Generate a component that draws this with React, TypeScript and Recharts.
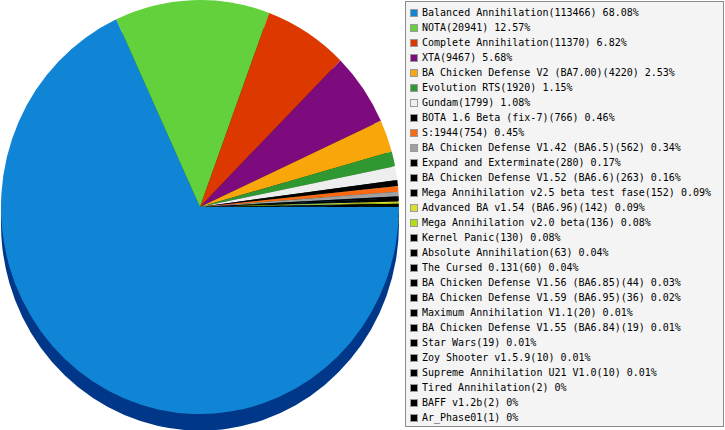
import React from "react";
import { Cell, Pie, PieChart } from "recharts";

// mod usage
const modNames = [
  "Balanced Annihilation",
  "NOTA",
  "Complete Annihilation",
  "XTA",
  "BA Chicken Defense V2 (BA7.00)",
  "Evolution RTS",
  "Gundam",
  "BOTA 1.6 Beta (fix-7)",
  "S:1944",
  "BA Chicken Defense V1.42 (BA6.5)",
  "Expand and Exterminate",
  "BA Chicken Defense V1.52 (BA6.6)",
  "Mega Annihilation v2.5 beta test fase",
  "Advanced BA v1.54 (BA6.96)",
  "Mega Annihilation v2.0 beta",
  "Kernel Panic",
  "Absolute Annihilation",
  "The Cursed 0.131",
  "BA Chicken Defense V1.56 (BA6.85)",
  "BA Chicken Defense V1.59 (BA6.95)",
  "Maximum Annihilation V1.1",
  "BA Chicken Defense V1.55 (BA6.84)",
  "Star Wars",
  "Zoy Shooter v1.5.9",
  "Supreme Annihilation U21 V1.0",
  "Tired Annihilation",
  "BAFF v1.2b",
  "Ar_Phase01",
];

const modGames = [
  113466, 20941, 11370, 9467, 4220, 1920, 1799, 766, 754, 562, 280, 263, 152,
  142, 136, 130, 63, 60, 44, 36, 20, 19, 19, 10, 10, 2, 2, 1,
];

const sliceColors = [
  "#1085d5",
  "#62d13b",
  "#dc3800",
  "#7e0b7e",
  "#f9a60a",
  "#309830",
  "#eeeeee",
  "#000000",
  "#fb6912",
  "#a0a0a0",
  "#000000",
  "#000000",
  "#000000",
  "#dedd2c",
  "#b4e012",
  "#000000",
  "#000000",
  "#000000",
  "#000000",
  "#000000",
  "#000000",
  "#000000",
  "#000000",
  "#000000",
  "#000000",
  "#000000",
  "#000000",
  "#000000",
];

// the rim under the top face
const shade = (hex: string) => {
  const n = parseInt(hex.slice(1), 16);
  const r = Math.round(((n >> 16) & 255) * 0.05);
  const g = Math.round(((n >> 8) & 255) * 0.41);
  const b = Math.round((n & 255) * 0.64);
  return `rgb(${r},${g},${b})`;
};

const total = modGames.reduce((a, b) => a + b, 0);
const data = modNames.map((name, i) => ({ name, value: modGames[i] }));

const pct = (v: number) => `${Math.round((v / total) * 10000) / 100}%`;

const SCALE_Y = 207 / 199;

function ModPie() {
  return (
    <div
      style={{
        position: "absolute",
        left: 0,
        top: 0,
        transform: `scaleY(${SCALE_Y})`,
        transformOrigin: "0 0",
      }}
    >
      <PieChart
        width={400}
        height={416}
        margin={{ top: 0, right: 0, bottom: 0, left: 0 }}
      >
        <Pie
          data={data}
          dataKey="value"
          nameKey="name"
          cx={200}
          cy={215}
          outerRadius={199}
          startAngle={0}
          endAngle={-360}
          stroke="none"
          isAnimationActive={false}
        >
          {data.map((d, i) => (
            <Cell key={`side-${d.name}`} fill={shade(sliceColors[i])} />
          ))}
        </Pie>
        <Pie
          data={data}
          dataKey="value"
          nameKey="name"
          cx={200}
          cy={199}
          outerRadius={199}
          startAngle={0}
          endAngle={-360}
          stroke="none"
          isAnimationActive={false}
        >
          {data.map((d, i) => (
            <Cell key={d.name} fill={sliceColors[i]} />
          ))}
        </Pie>
      </PieChart>
    </div>
  );
}

function ModLegend() {
  return (
    <div
      style={{
        position: "absolute",
        left: 405,
        top: 1,
        width: 319,
        height: 426,
        boxSizing: "border-box",
        border: "1px solid #8c8c8c",
        background: "#f4f4f4",
        paddingTop: 3,
        fontFamily: "'DejaVu Sans Mono', monospace",
        fontSize: 10,
        color: "#000",
      }}
    >
      {data.map((d, i) => (
        <div
          key={d.name}
          style={{
            height: 15,
            lineHeight: "15px",
            display: "flex",
            alignItems: "center",
            whiteSpace: "pre",
          }}
        >
          <span
            style={{
              width: 8,
              height: 8,
              boxSizing: "border-box",
              marginLeft: 4,
              marginRight: 4,
              border: "1px solid #9a9a9a",
              background: sliceColors[i],
              flex: "none",
            }}
          />
          <span>{`${d.name}(${d.value}) ${pct(d.value)}`}</span>
        </div>
      ))}
    </div>
  );
}

export default function App() {
  return (
    <div
      style={{
        position: "absolute",
        left: 0,
        top: 0,
        width: 725,
        height: 430,
        overflow: "hidden",
        background: "#fff",
      }}
    >
      <ModPie />
      <ModLegend />
    </div>
  );
}
